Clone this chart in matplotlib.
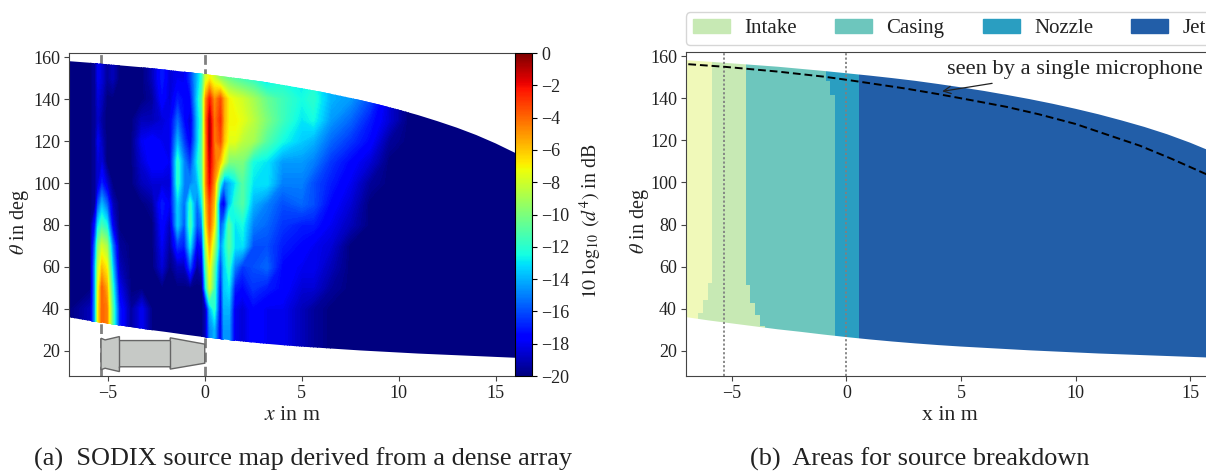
import numpy as np
import matplotlib
matplotlib.use('Agg')
import matplotlib.pyplot as plt
from matplotlib.patches import Polygon, Patch
from matplotlib.cm import ScalarMappable
from matplotlib.colors import Normalize

plt.rcParams['font.family'] = ['Liberation Serif', 'DejaVu Serif']
plt.rcParams['mathtext.fontset'] = 'stix'
plt.rcParams['text.color'] = '#222222'
plt.rcParams['axes.labelcolor'] = '#222222'
plt.rcParams['xtick.labelcolor'] = '#222222'
plt.rcParams['ytick.labelcolor'] = '#222222'

# source map values in dB
x_grid = [-7, -5.9, -5.65, -5.5, -5.3, -5.05, -4.75, -4.4,
          -3.8, -3.25, -2.7, -2.2, -1.8, -1.4, -1.05, -0.75, -0.4, -0.15,
          0.05, 0.25, 0.5, 0.8, 1.0, 1.25, 1.55, 1.95,
          2.5, 3.2, 4.0, 5.0, 5.6, 6.5, 7.5, 8.5, 9.5, 10.5, 16]
theta_grid = [160, 150, 140, 130, 120, 110, 100, 90, 80, 70, 60, 50, 40, 30, 15]
level_rows = [
    [-20, -20, -19.5, -18, -18.5, -19.5, -19, -20,
     -20, -20, -19, -17, -18.5, -18, -18, -16.5, -14, -12,
     -8, -7, -8, -9.5, -10, -10.5, -11, -11.5,
     -12, -13.5, -12.5, -13, -12.5, -14, -14.5, -16, -18, -20, -20],
    [-20, -20, -19.5, -18, -18.5, -19.5, -19, -20,
     -20, -20, -19, -17, -18.5, -18, -18, -16.5, -14, -12,
     -8, -7, -8, -9.5, -10, -10.5, -11, -11.5,
     -12, -13.5, -12.5, -13, -12.5, -14, -14.5, -16, -18, -20, -20],
    [-20, -20, -19.5, -18.5, -19, -20, -20, -20,
     -20, -20, -19.5, -17.5, -18.5, -17, -17.5, -17.5, -13.5, -11,
     -5, -2.5, -5, -3.5, -5.5, -7, -7.5, -8,
     -9, -10.5, -11.5, -12.5, -12, -14, -14.5, -16, -18.5, -20, -20],
    [-20, -20, -19.5, -18.8, -19.5, -20, -20, -20,
     -20, -19, -19, -18.5, -18, -15.5, -17.5, -18.5, -14, -11.5,
     -4.5, -1, -4.5, -2.8, -5.5, -7, -7, -7.5,
     -8.5, -10, -11.5, -13, -12.5, -14.5, -15.5, -17, -18.5, -20, -20],
    [-20, -20, -19.5, -18, -19, -20, -20, -20,
     -20, -18, -17.5, -18, -18, -14, -16.5, -18, -14, -11,
     -5, -0.8, -4.5, -3.5, -6, -7.5, -7.5, -8.5,
     -9, -11, -12.5, -13.5, -14, -15.5, -16.5, -17.5, -19.5, -20, -20],
    [-20, -20, -19.5, -18.5, -18.5, -20, -20, -20,
     -20, -18.5, -17.5, -17.5, -18, -12, -15, -16.5, -13, -11,
     -5, -1.5, -4, -6, -8, -10, -10, -10,
     -12.5, -13, -14.5, -14.5, -15, -16.5, -17.5, -18.5, -20, -20, -20],
    [-20, -20, -19.5, -18.5, -17, -18.5, -20, -20,
     -20, -19, -18.5, -18.5, -18.5, -12, -15, -15, -14, -11.5,
     -5, -2, -5, -12, -15, -14, -13, -11,
     -13, -13, -15, -15, -16, -17, -18, -19.5, -20, -20, -20],
    [-20, -20, -19.5, -16, -14, -15.5, -19, -20,
     -20, -20, -19.5, -17, -18, -13.5, -15.5, -12, -15.5, -13,
     -6, -3.5, -6, -17, -18, -14, -12, -11,
     -14, -15, -16, -15.5, -16, -17.5, -18.5, -20, -20, -20, -20],
    [-20, -20, -17, -13, -11.5, -12.5, -18, -20,
     -20, -20, -20, -17.5, -19, -13.5, -16, -11.5, -16, -15,
     -7, -4, -7, -16, -14.5, -11, -13, -12.5,
     -15, -15.5, -16.5, -17, -17, -18, -19, -20, -20, -20, -20],
    [-20, -20, -15, -10, -8, -9, -15, -19.5,
     -20, -20, -20, -18, -19.5, -16.5, -17, -13, -18, -17,
     -9, -5.5, -9, -15, -13, -11, -13, -13,
     -16, -16, -17, -17.5, -18, -18.5, -20, -20, -20, -20, -20],
    [-20, -20, -14, -8.5, -6, -7, -13.5, -19,
     -20, -20, -20, -18.5, -20, -19, -19, -16, -19.5, -18.5,
     -11, -7, -11, -16.5, -13.5, -12, -15, -16.5,
     -16, -15.5, -17.5, -18, -18, -19, -20, -20, -20, -20, -20],
    [-20, -20, -14, -7.5, -4, -5.5, -12, -18,
     -20, -20, -20, -20, -20, -20, -20, -20, -20, -20,
     -13, -8, -11.5, -17.5, -13.5, -13, -17, -17.5,
     -16.5, -17, -17.5, -18.5, -18.5, -19.5, -20, -20, -20, -20, -20],
    [-20, -19, -14, -7, -4, -4.5, -11, -17,
     -19.5, -18, -20, -20, -20, -20, -20, -20, -20, -20,
     -19, -14, -12, -18, -14, -14, -18, -18.5,
     -17.5, -18, -18, -19, -19.5, -20, -20, -20, -20, -20, -20],
    [-20, -19, -14, -7, -4, -4.5, -11, -17,
     -19.5, -18, -20, -20, -20, -20, -20, -20, -20, -20,
     -19, -15, -14, -18, -14.5, -14.5, -18, -18.5,
     -17.5, -18, -18, -19, -19.5, -20, -20, -20, -20, -20, -20],
    [-20, -19, -14, -7, -4, -4.5, -11, -17,
     -19.5, -18, -20, -20, -20, -20, -20, -20, -20, -20,
     -19, -15, -14, -18, -14.5, -14.5, -18, -18.5,
     -17.5, -18, -18, -19, -19.5, -20, -20, -20, -20, -20, -20],
]

# edges of the region seen by the array
edge_x = [-7, -6, -5, -4, -3, -2, -1, 0, 1, 2, 3, 4, 5, 6, 7, 8, 9, 10, 11, 12, 13, 14, 15, 16]
edge_top = [158.1, 157.4, 156.6, 155.8, 155, 154, 153, 151.9, 150.8, 149.6, 148.3, 146.8, 145.2, 143.5,
            141.6, 139.6, 137.4, 135, 132.4, 129.5, 126.4, 122.9, 118.9, 114.4]
edge_bottom = [36, 34.4, 33, 31.6, 30.2, 29, 27.7, 26.5, 25.4, 24.4, 23.5, 22.7, 22, 21.4,
               20.8, 20.2, 19.7, 19.2, 18.7, 18.3, 17.9, 17.5, 17.1, 16.7]

# engine outline
engine_x = [-5.35, -5.14, -4.4, -4.4, -1.78, -1.78, 0, 0, -1.78, -1.78, -4.4, -4.4, -5.14, -5.35]
engine_y = [26, 25.2, 26.8, 24.9, 24.9, 26.2, 23.2, 14.1, 11.3, 12.4, 12.4, 10.1, 11.7, 11]
intake_plane = -5.35
nozzle_plane = 0

# source breakdown borders (value holds from this theta upwards)
theta_steps = [15, 32, 36.8, 38, 42.9, 44, 51.4, 52.4, 141.4, 148, 165]
border_a = [-6.47, -6.47, -6.47, -6.27, -6.27, -6.06, -6.06, -5.85, -5.85, -5.85, -5.85]
border_b = [-3.55, -3.78, -4.0, -4.0, -4.2, -4.2, -4.4, -4.4, -4.4, -4.4, -4.4]
border_c = [-0.5, -0.5, -0.5, -0.5, -0.5, -0.5, -0.5, -0.5, -0.7, -0.91, -0.91]
border_d = [0.55] * 11
area_names = ['Intake', 'Casing', 'Nozzle', 'Jet']
area_colors = ['#c7e9b4', '#6dc6bd', '#2a9ec1', '#225ea8']

# line seen by one microphone
mic_x = [-6.9, -5.35, -3, -1, 0, 1, 2.6, 4, 5.5, 7, 8.4, 10, 11.3, 12.8, 14.2, 16]
mic_y = [156.2, 155, 152.7, 150.3, 148.8, 147.2, 144.6, 142, 139, 135.9, 132.4, 127.8, 123, 117.5, 111.2, 102.5]

W, H = 1206, 471
fig = plt.figure(figsize=(W / 100, H / 100), dpi=100)
FS = 13
SPINE = '#444444'


def px_axes(left, top, right, bottom):
    return fig.add_axes([left / W, 1 - bottom / H, (right - left) / W, (bottom - top) / H])


def region(ax):
    outline = list(zip(edge_x, edge_top)) + list(zip(edge_x[::-1], edge_bottom[::-1]))
    patch = Polygon(outline, closed=True, fc='none', ec='none')
    ax.add_patch(patch)
    return patch


def style(ax, xl, ypad):
    ax.set_xlim(-7, 16)
    ax.set_ylim(8, 162)
    ax.set_xticks([-5, 0, 5, 10, 15])
    ax.set_yticks(range(20, 161, 20))
    ax.tick_params(labelsize=FS, length=3.5, width=0.8, color=SPINE, pad=3)
    ax.spines['right'].set_visible(False)
    for s in ['top', 'left', 'bottom']:
        ax.spines[s].set_color(SPINE)
    ax.set_xlabel(xl, fontsize=15.7, labelpad=3)
    ax.set_ylabel(r'$\theta$ in deg', fontsize=14.5, labelpad=ypad, y=0.477)


# (a) source map
ax = px_axes(69, 53, 515, 376)
style(ax, r'$x$ in m', 1.5)
ax.vlines([intake_plane, nozzle_plane], 8, 162, color='#808080', lw=2, linestyles=(0, (3.5, 1.6)), zorder=1)
levels = np.linspace(-20, 0, 161)
cs = ax.contourf(x_grid, theta_grid, np.array(level_rows), levels=levels, cmap='jet',
                 vmin=-20, vmax=0, extend='both', antialiased=False, zorder=2)
cs.set_clip_path(region(ax))
ax.add_patch(Polygon(list(zip(engine_x, engine_y)), closed=True, fc='#c6c9c6', ec='#666666', lw=1, zorder=3))
ax.plot([-4.4, -4.4], [12.4, 24.9], color='#666666', lw=1, zorder=4)
ax.plot([-1.78, -1.78], [12.4, 24.9], color='#666666', lw=1, zorder=4)

cax = px_axes(515, 53, 532, 376)
cb = fig.colorbar(ScalarMappable(Normalize(-20, 0), 'jet'), cax=cax)
cb.set_ticks(np.arange(-20, 1, 2))
cb.ax.tick_params(labelsize=FS, length=3.5, width=0.8, pad=3)
cb.outline.set_linewidth(0.8)
cb.set_label(r'$10\ \log_{10}\ (d^4)$ in dB', fontsize=14.3, labelpad=6, y=0.48)

# (b) areas
ax2 = px_axes(686, 52, 1213, 376)
style(ax2, 'x in m', -0.5)
clip = region(ax2)
areas = [
    ax2.fill_betweenx(theta_steps, -7, border_a, step='post', color='#f0f9b9', lw=0),
    ax2.fill_betweenx(theta_steps, border_a, border_b, step='post', color=area_colors[0], lw=0),
    ax2.fill_betweenx(theta_steps, border_b, border_c, step='post', color=area_colors[1], lw=0),
    ax2.fill_betweenx(theta_steps, border_c, border_d, step='post', color=area_colors[2], lw=0),
    ax2.fill_betweenx(theta_steps, border_d, 16, step='post', color=area_colors[3], lw=0),
]
for a in areas:
    a.set_clip_path(clip)
ax2.vlines([intake_plane, nozzle_plane], 8, 162, color='#808080', lw=1.3, linestyles=(0, (1.2, 1.2)), zorder=3)
ax2.plot(mic_x, mic_y, color='black', lw=1.4, ls=(0, (4, 2)), zorder=4)
ax2.annotate('', xy=(4.18, 143.3), xytext=(6.36, 147.1),
             arrowprops=dict(arrowstyle='->', color='#222222', lw=0.9, shrinkA=0, shrinkB=0, mutation_scale=13), zorder=5)
ax2.text(9.97, 153.8, 'seen by a single microphone', fontsize=16.1, ha='center', va='center', zorder=5)
handles = [Patch(color=c, label=n) for c, n in zip(area_colors, area_names)]
ax2.legend(handles=handles, loc='lower left', bbox_to_anchor=(0, 1.022, 1, 0.09), mode='expand', ncol=4,
           fontsize=15, handlelength=1.78, handleheight=0.62, handletextpad=0.7, borderaxespad=0, borderpad=0.32)

fig.text(34 / W, 1 - 459 / H, '(a)  SODIX source map derived from a dense array', fontsize=18.9, va='center')
fig.text(750 / W, 1 - 459 / H, '(b)  Areas for source breakdown', fontsize=18.9, va='center')

fig.savefig('out.png', dpi=100)
